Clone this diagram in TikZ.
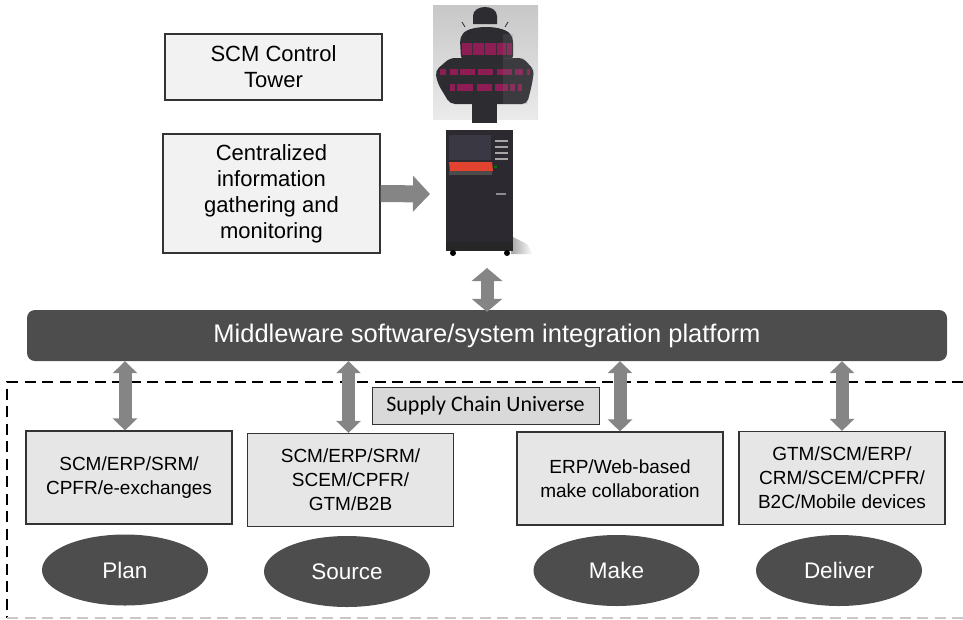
\documentclass[tikz,border=0pt]{standalone}
\usepackage{fontspec}
\setmainfont{Liberation Sans}
\newfontfamily\calibrifont{Carlito}
\usetikzlibrary{arrows.meta,shapes.geometric,calc}

\definecolor{bardark}{HTML}{4D4D4D}
\definecolor{arrowgray}{HTML}{858585}
\definecolor{boxfill}{HTML}{E6E6E6}
\definecolor{topfill}{HTML}{F2F2F2}
\definecolor{tagfill}{HTML}{D9D9D9}
\definecolor{edgegray}{HTML}{333333}
\definecolor{towerdark}{HTML}{2D2C31}
\definecolor{towerpink}{HTML}{8E1D55}
\definecolor{serverbody}{HTML}{2C2931}
\definecolor{serverpanel}{HTML}{3A3842}
\definecolor{serverred}{HTML}{E2432F}

\begin{document}
\begin{tikzpicture}[x=1pt,y=-1pt,
  topbox/.style={draw=edgegray, line width=1.2pt, fill=topfill, inner sep=0pt,
    align=center, text=black, font=\fontsize{22}{26}\selectfont},
  appbox/.style={draw=edgegray, line width=1.2pt, fill=boxfill, inner sep=0pt,
    minimum width=206pt, minimum height=93pt,
    align=center, text=black, font=\fontsize{19}{24}\selectfont},
  tagbox/.style={draw=edgegray, line width=1pt, fill=tagfill, inner sep=0pt,
    text=black, font=\calibrifont\fontsize{22}{26}\selectfont},
  platform/.style={fill=bardark, rounded corners=8pt, inner sep=0pt,
    text=white, font=\fontsize{25.5}{30}\selectfont},
  phase/.style={ellipse, fill=bardark, inner sep=0pt,
    minimum width=166pt, minimum height=71pt,
    text=white, font=\fontsize{22.5}{27}\selectfont},
  linkarrow/.style={draw=arrowgray, line width=13pt,
    {Triangle[width=24pt,length=12pt]}-{Triangle[width=24pt,length=12pt]}},
  hostarrow/.style={draw=arrowgray, line width=13pt,
    {Triangle[width=30pt,length=13pt]}-{Triangle[width=30pt,length=13pt]}},
  feedarrow/.style={draw=arrowgray, line width=17pt,
    -{Triangle[width=35pt,length=17pt]}},
  frameline/.style={draw=black, line width=2pt, dash pattern=on 11pt off 6.5pt},
  frameedge/.style={draw=black!22, line width=1.5pt, dash pattern=on 11pt off 6.5pt}
]
\useasboundingbox (0,0) rectangle (963,619);

% ---------- supply chain universe frame ----------
\draw[frameline] (963,382) -- (7,382) -- (7,618);
\draw[frameedge] (7,618) -- (963,618);

% ---------- control tower picture ----------
\shade[top color=black!22, bottom color=black!8] (433,5) rectangle (538,119);
\fill[towerdark] (472,98) rectangle (497,123);
% lower observation deck
\fill[towerdark, rounded corners=5pt]
  (435,71) -- (450,58) -- (523,58) -- (534,70) -- (532,84) -- (527,104)
  -- (450,104) -- (438,84) -- cycle;
% upper deck, dome and cap
\fill[towerdark, rounded corners=3pt]
  (461,59) -- (460,40) -- (462,34) -- (511,34) -- (513,40) -- (513,59) -- cycle;
\fill[towerdark] (462,36) .. controls (464,24) and (508,24) .. (511,36) -- cycle;
\fill[towerdark] (473,24) -- (473,16) .. controls (473,4) and (497,4) .. (497,16)
  -- (497,24) -- cycle;
\draw[towerdark, line width=0.8pt] (465,27) -- (462,22);
\draw[towerdark, line width=0.8pt] (505,27) -- (508,22);
% window bands
\fill[towerpink] (462,43) rectangle (512,55);
\foreach \x in {472,484,496,506} \fill[towerdark!80!towerpink] (\x,43) rectangle (\x+1.2,55);
\foreach \x/\w in {440/6,450/8,460/15,478/15,497/15,515/8,527/3}
  \fill[towerpink] (\x,68.5) rectangle (\x+\w,75);
\foreach \x/\w in {450/5,457/16,477/15,495/13,510/5,518/4}
  \fill[towerpink] (\x,84) rectangle (\x+\w,91);
% shaded right flank
\fill[black!55, opacity=0.22] (503,34) rectangle (513,59);
\fill[black!55, opacity=0.22] (503,58) -- (523,58) -- (534,70) -- (532,84)
  -- (527,104) -- (503,104) -- cycle;

% ---------- server picture ----------
\shade[left color=black!35, right color=white] (511,236) -- (527,244) -- (533,254) -- (511,254) -- cycle;
\fill[serverbody] (446,130) rectangle (513,251);
\fill[serverpanel] (449,135) rectangle (491,160);
\fill[serverred] (449,162) -- (492,162) -- (493,171) -- (450,172) -- cycle;
\fill[black!70] (449,171) rectangle (492,175);
\foreach \y in {140,146,152,158} \fill[black!35] (495,\y) rectangle (508,\y+1.8);
\fill[green!45!black] (494,166) rectangle (497,168);
\fill[black!45] (496,193) rectangle (506,195);
\fill[black!85] (446,242) rectangle (513,251);
\fill[black] (453,253) circle (3pt);
\fill[black] (507,253) circle (3pt);

\coordinate (towerfoot) at (487,268);
\coordinate (serverside) at (430,194);

% ---------- labels ----------
\node[topbox, minimum width=217pt, minimum height=66pt] (tower) at (273.5,67)
  {SCM Control\\Tower};
\node[topbox, minimum width=217pt, minimum height=119pt] (central) at (271.5,193.5)
  {Centralized\\information\\gathering and\\monitoring};

\node[platform, minimum width=920pt, minimum height=51pt] (mw) at (487,335.5)
  {Middleware software/system integration platform};

\node[tagbox, minimum width=227pt, minimum height=37pt] (scu) at (485.5,405.5)
  {Supply Chain Universe};

\node[appbox] (plansys)    at (129,477.5) {SCM/ERP/SRM/\\CPFR/e-exchanges};
\node[appbox] (sourcesys)  at (350.5,480) {SCM/ERP/SRM/\\SCEM/CPFR/\\GTM/B2B};
\node[appbox] (makesys)    at (620,478.5) {ERP/Web-based\\make collaboration};
\node[appbox] (deliversys) at (842,478)   {GTM/SCM/ERP/\\CRM/SCEM/CPFR/\\B2C/Mobile devices};

\node[phase] (plan)    at (125,570)     {Plan};
\node[phase] (source)  at (347,571.5)   {Source};
\node[phase] (make)    at (616.5,570.5) {Make};
\node[phase] (deliver) at (839,570.5)   {Deliver};

% ---------- connectors ----------
\draw[feedarrow] (central.east) -- (serverside);
\draw[hostarrow] ([yshift=-2pt]mw.north) -- (towerfoot);
\draw[linkarrow] ([xshift=-4pt]plansys.north) -- ([xshift=-4pt]plansys.north |- mw.south);
\draw[linkarrow] ([xshift=-2pt]sourcesys.north) -- ([xshift=-2pt]sourcesys.north |- mw.south);
\draw[linkarrow] (makesys.north) -- (makesys.north |- mw.south);
\draw[linkarrow] (deliversys.north) -- (deliversys.north |- mw.south);
\end{tikzpicture}
\end{document}
